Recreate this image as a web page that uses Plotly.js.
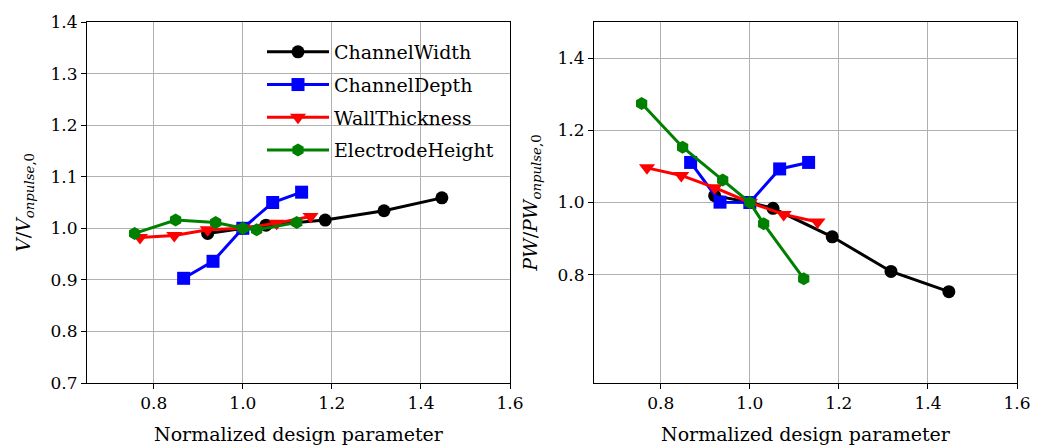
<!DOCTYPE html>
<html><head><meta charset="utf-8">
<script src="https://cdn.plot.ly/plotly-3.0.1.min.js"></script>
<style>html,body{margin:0;padding:0;background:#fff}#plot{width:1047px;height:446px}</style>
</head><body><div id="plot"></div>
<script>
// Left panel: V / V_onpulse,0
const cwX = [0.921, 1.0, 1.052, 1.185, 1.317, 1.447];
const cwV = [0.990, 1.0, 1.006, 1.016, 1.034, 1.059];
const cdX = [0.867, 0.933, 1.0, 1.067, 1.132];
const cdV = [0.903, 0.936, 1.0, 1.050, 1.070];
const wtX = [0.769, 0.846, 0.921, 1.0, 1.076, 1.152];
const wtV = [0.982, 0.986, 0.997, 1.0, 1.010, 1.023];
const ehX = [0.757, 0.849, 0.939, 1.0, 1.031, 1.121];
const ehV = [0.990, 1.016, 1.011, 1.0, 0.997, 1.011];
// Right panel: PW / PW_onpulse,0
const cwPW = [1.019, 1.0, 0.984, 0.905, 0.809, 0.753];
const cdPW = [1.111, 1.001, 1.0, 1.093, 1.111];
const wtPW = [1.096, 1.075, 1.041, 1.0, 0.967, 0.946];
const ehPW = [1.274, 1.153, 1.062, 1.0, 0.941, 0.789];

const names = ['ChannelWidth', 'ChannelDepth', 'WallThickness', 'ElectrodeHeight'];
const colors = ['black', 'blue', 'red', 'green'];
const symbols = ['circle', 'square', 'triangle-down', 'hexagon'];
const msizes = [13, 13, 14, 13];
const xs = [cwX, cdX, wtX, ehX];
const leftY = [cwV, cdV, wtV, ehV];
const rightY = [cwPW, cdPW, wtPW, ehPW];

const FONT = 'DejaVu Serif, Liberation Serif, serif';
const traces = [];
for (let i = 0; i < 4; i++) {
  traces.push({x: xs[i], y: leftY[i], xaxis: 'x', yaxis: 'y', mode: 'lines+markers',
    name: names[i], legendgroup: names[i], showlegend: true,
    line: {color: colors[i], width: 3}, marker: {color: colors[i], symbol: symbols[i], size: msizes[i]}});
}
for (let i = 0; i < 4; i++) {
  traces.push({x: xs[i], y: rightY[i], xaxis: 'x2', yaxis: 'y2', mode: 'lines+markers',
    name: names[i], legendgroup: names[i], showlegend: false,
    line: {color: colors[i], width: 3}, marker: {color: colors[i], symbol: symbols[i], size: msizes[i]}});
}

const axBase = {showline: true, linecolor: 'black', linewidth: 1, mirror: true,
  ticks: 'outside', ticklen: 5, tickwidth: 1, tickcolor: 'black',
  showgrid: true, gridcolor: '#b0b0b0', gridwidth: 1, zeroline: false,
  tickfont: {family: FONT, size: 17, color: 'black'}, tickformat: '.1f'};
const yd = [1 - 383/446, 1 - 22/446];
const TF = {family: FONT, size: 19, color: 'black'};
const layout = {
  width: 1047, height: 446, paper_bgcolor: 'white', plot_bgcolor: 'white',
  margin: {l: 0, r: 0, t: 0, b: 0},
  font: {family: FONT, size: 17, color: 'black'},
  xaxis: Object.assign({}, axBase, {domain: [87/1047, 510/1047], range: [0.65, 1.6], anchor: 'y',
    tickvals: [0.8, 1.0, 1.2, 1.4, 1.6],
    title: {text: 'Normalized design parameter', font: TF, standoff: 15}}),
  yaxis: Object.assign({}, axBase, {domain: yd, range: [0.7, 1.4], anchor: 'x',
    tickvals: [0.7, 0.8, 0.9, 1.0, 1.1, 1.2, 1.3, 1.4],
    title: {text: '<i>V</i>/<i>V</i><sub><i>onpulse</i>,0</sub>', font: TF, standoff: 14}}),
  xaxis2: Object.assign({}, axBase, {domain: [594/1047, 1017/1047], range: [0.65, 1.6], anchor: 'y2',
    tickvals: [0.8, 1.0, 1.2, 1.4, 1.6],
    title: {text: 'Normalized design parameter', font: TF, standoff: 15}}),
  yaxis2: Object.assign({}, axBase, {domain: yd, range: [0.5, 1.5], anchor: 'x2',
    tickvals: [0.8, 1.0, 1.2, 1.4],
    title: {text: '<i>PW</i>/<i>PW</i><sub><i>onpulse</i>,0</sub>', font: TF, standoff: 14}}),
  legend: {x: 262/1047, y: 1 - 33/446, xanchor: 'left', yanchor: 'top',
    bgcolor: 'rgba(0,0,0,0)', borderwidth: 0, traceorder: 'grouped', tracegroupgap: 5,
    font: {family: FONT, size: 19, color: 'black'}, itemwidth: 62},
  showlegend: true
};
Plotly.newPlot('plot', traces, layout, {staticPlot: true, displayModeBar: false});
</script></body></html>
